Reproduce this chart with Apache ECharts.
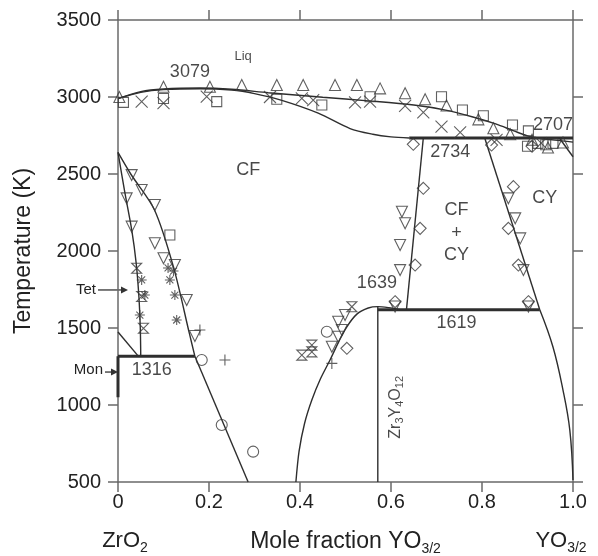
<!DOCTYPE html>
<html>
<head>
<meta charset="utf-8">
<script src="https://cdn.jsdelivr.net/npm/echarts@6/dist/echarts.min.js"></script>
<style>html,body{margin:0;padding:0;background:#fff}#c{width:598px;height:556px}</style>
</head>
<body>
<div id="c"></div>
<script>
// ---- axes ----
var xTicks = [0, 0.2, 0.4, 0.6, 0.8, 1.0];
var yTicks = [500, 1000, 1500, 2000, 2500, 3000, 3500];

// ---- phase boundaries (x = mole fraction YO3/2, T in K) ----
var liquidus = [[0,2990],[0.05,3035],[0.1,3052],[0.18,3058],[0.25,3050],[0.33,3028],[0.45,2998],[0.55,2975],[0.65,2948],[0.72,2915],[0.78,2870],[0.83,2825],[0.87,2780],[0.9,2748],[0.93,2732],[0.96,2720],[1,2707]];
var solidusCF = [[0,2990],[0.05,3030],[0.1,3048],[0.18,3054],[0.25,3045],[0.3,3022],[0.36,2978],[0.44,2895],[0.51,2795],[0.56,2758],[0.6,2741],[0.64,2734]];
var hexLine = [[0.97,2734],[1,2612]];
var tetRightUpper = [[0,2640],[0.028,2500],[0.08,2268],[0.122,1895],[0.157,1463],[0.169,1316]];
var tetRightLower = [[0.169,1316],[0.286,500]];
var tetLeft = [[0,2640],[0.015,2380],[0.03,2140],[0.04,1920],[0.046,1700],[0.049,1500],[0.05,1316]];
var monLine = [[0,1474],[0.045,1316]];
var monPhase = [[0,1316],[0,1050]];
var eutectoid1316 = [[0,1316],[0.169,1316]];
var peritectic2734 = [[0.64,2734],[1,2734]];
var eutectoid1619 = [[0.571,1619],[0.927,1619]];
var twoPhaseLeft = [[0.671,2734],[0.634,1619]];
var twoPhaseRight = [[0.806,2734],[0.927,1619]];
var cyLower = [[0.927,1619],[0.956,1377],[0.978,1097],[0.993,837],[1,513]];
var deltaDome = [[0.391,500],[0.398,700],[0.41,880],[0.426,1032],[0.445,1170],[0.466,1292],[0.485,1410],[0.503,1508],[0.525,1590],[0.55,1630],[0.571,1639],[0.595,1632],[0.62,1619]];
var deltaLine = [[0.571,1639],[0.571,500]];

// ---- experimental points ----
var ptsTriUp = [[0.003,3000],[0.10,3067],[0.202,3067],[0.272,3078],[0.349,3078],[0.407,3078],[0.477,3078],[0.525,3078],[0.576,3056],[0.631,3024],[0.675,2985],[0.722,2945],[0.792,2855],[0.825,2797],[0.862,2758],[0.91,2722],[0.945,2672],[0.978,2705]];
var ptsCross = [[0.052,2970],[0.10,2960],[0.195,3002],[0.334,3000],[0.404,2991],[0.429,2980],[0.521,2965],[0.554,2970],[0.631,2942],[0.671,2900],[0.711,2807],[0.752,2770],[0.832,2721],[0.93,2700]];
var ptsSquare = [[0.012,2965],[0.10,2990],[0.217,2970],[0.349,2985],[0.448,2948],[0.554,3002],[0.711,3002],[0.757,2916],[0.803,2878],[0.867,2818],[0.902,2780],[0.114,2104],[0.90,2680],[0.923,2699],[0.94,2690],[0.956,2699]];
var ptsTriDown = [[0.030,2493],[0.052,2396],[0.019,2342],[0.081,2299],[0.030,2158],[0.081,2050],[0.10,1953],[0.125,1909],[0.151,1682],[0.169,1448],[0.499,1584],[0.484,1541],[0.492,1487],[0.484,1443],[0.47,1378],[0.624,2255],[0.631,2180],[0.62,2039],[0.62,1876],[0.609,1640],[0.858,2342],[0.873,2212],[0.884,2082],[0.891,1876],[0.902,1640]];
var ptsDiamond = [[0.649,2693],[0.821,2688],[0.91,2680],[0.671,2407],[0.664,2147],[0.653,1909],[0.609,1671],[0.869,2418],[0.858,2147],[0.88,1909],[0.902,1671],[0.503,1368]];
var ptsHourglass = [[0.041,1888],[0.052,1705],[0.056,1498],[0.514,1638],[0.426,1389],[0.426,1345],[0.404,1324]];
var ptsAsterisk = [[0.052,1812],[0.114,1812],[0.059,1714],[0.125,1714],[0.048,1584],[0.129,1552],[0.11,1890],[0.122,1870]];
var ptsPlus = [[0.18,1487],[0.235,1292],[0.47,1270]];
var ptsCircle = [[0.184,1292],[0.228,870],[0.297,697],[0.459,1476]];

// ---- annotations ----
var bigLabels = [[0.158,3164,'3079'],[0.286,2526,'CF'],[0.730,2643,'2734'],[0.956,2818,'2707'],[0.938,2342,'CY'],[0.744,2266,'CF'],[0.744,2117,'+'],[0.744,1974,'CY'],[0.569,1792,'1639'],[0.744,1530,'1619'],[0.074,1227,'1316']];
var smallLabels = [[0.275,3262,'Liq']];
var compoundLabel = [[0.609,985,'Zr3Y4O12']];

var FONT = 'Liberation Sans, Arial, Helvetica, sans-serif';
var LINE = '#2e2e2e';
var MK = '#383838';

function curve(data, width, smooth) {
  return { type: 'line', data: data, showSymbol: false, symbol: 'none', smooth: smooth || false,
    lineStyle: { color: LINE, width: width }, silent: true, z: 3 };
}
function points(data, symbol, size) {
  return { type: 'scatter', data: data, symbol: symbol, symbolSize: size, silent: true, z: 4,
    itemStyle: { color: 'rgba(255,255,255,0)', borderColor: MK, borderWidth: 1.1 } };
}
function labels(data, fontSize) {
  return { type: 'scatter', symbolSize: 0, silent: true, z: 6,
    data: data.map(function (d) { return { value: [d[0], d[1]], name: d[2] }; }),
    label: { show: true, position: 'inside', formatter: '{b}', fontFamily: FONT, fontSize: fontSize, color: '#1a1a1a' } };
}

var axisCommon = {
  axisLine: { show: true, onZero: false, lineStyle: { color: '#6a6a6a', width: 1.5 } },
  axisTick: { show: true, inside: false, length: 10, lineStyle: { color: '#6a6a6a', width: 1.5 } },
  splitLine: { show: false }
};

var chart = echarts.init(document.getElementById('c'), null, { renderer: 'canvas' });
var option = {
  animation: false,
  backgroundColor: '#ffffff',
  grid: { left: 118, right: 25, top: 20, bottom: 74, containLabel: false, outerBoundsMode: 'none' },
  xAxis: [
    Object.assign({ type: 'value', position: 'bottom', min: xTicks[0], max: xTicks[xTicks.length - 1], interval: 0.2,
      axisLabel: { margin: 10, fontSize: 20, fontFamily: FONT, color: '#222',
        formatter: function (v) { return v === 0 ? '0' : v.toFixed(1); } },
      name: '{a|Mole fraction YO}{s|3/2}', nameLocation: 'middle', nameGap: 46,
      nameTextStyle: { fontFamily: FONT, color: '#222',
        rich: { a: { fontSize: 23, fontFamily: FONT, color: '#222', lineHeight: 28 },
                s: { fontSize: 14, fontFamily: FONT, color: '#222', lineHeight: 14, padding: [14, 0, 0, 0] } } }
    }, axisCommon),
    Object.assign({ type: 'value', position: 'top', min: xTicks[0], max: xTicks[xTicks.length - 1], interval: 0.2,
      axisLabel: { show: false } }, axisCommon)
  ],
  yAxis: [
    Object.assign({ type: 'value', position: 'left', min: yTicks[0], max: yTicks[yTicks.length - 1], interval: 500,
      axisLabel: { margin: 17, fontSize: 20, fontFamily: FONT, color: '#222',
        formatter: function (v) { return String(v); } },
      name: 'Temperature (K)', nameLocation: 'middle', nameGap: 83, nameRotate: 90,
      nameTextStyle: { fontSize: 23, fontFamily: FONT, color: '#222' } }, axisCommon),
    Object.assign({ type: 'value', position: 'right', min: yTicks[0], max: yTicks[yTicks.length - 1], interval: 500,
      axisLabel: { show: false } }, axisCommon)
  ],
  series: [
    curve(liquidus, 1.4, 0.3),
    curve(solidusCF, 1.4, 0.3),
    curve(hexLine, 1.4),
    curve(tetRightUpper, 1.4, 0.3),
    curve(tetRightLower, 1.4),
    curve(tetLeft, 1.4, 0.3),
    curve(monLine, 1.4),
    curve(monPhase, 3),
    curve(eutectoid1316, 3),
    curve(peritectic2734, 3),
    curve(eutectoid1619, 3),
    curve(twoPhaseLeft, 1.4),
    curve(twoPhaseRight, 1.4),
    curve(cyLower, 1.4, 0.4),
    curve(deltaDome, 1.4, 0.3),
    curve(deltaLine, 1.4),
    points(ptsTriUp, 'triangle', 11),
    points(ptsCross, 'path://M0,0L10,10M10,0L0,10', 12),
    points(ptsSquare, 'rect', 10),
    points(ptsTriDown, 'path://M0,0L10,0L5,9Z', 11),
    points(ptsDiamond, 'diamond', 12),
    points(ptsHourglass, 'path://M0,0L10,0L0,10L10,10Z', 10),
    points(ptsAsterisk, 'path://M5,0L5,10M0,5L10,5M1.5,1.5L8.5,8.5M8.5,1.5L1.5,8.5', 10),
    points(ptsPlus, 'path://M5,0L5,10M0,5L10,5', 11),
    points(ptsCircle, 'circle', 11),
    labels(bigLabels, 18),
    labels(smallLabels, 13),
    { type: 'scatter', symbolSize: 0, silent: true, z: 6,
      data: compoundLabel.map(function (d) { return { value: [d[0], d[1]], name: d[2] }; }),
      label: { show: true, position: 'inside', rotate: 90, fontFamily: FONT, color: '#1a1a1a',
        formatter: '{a|Zr}{s|3}{a|Y}{s|4}{a|O}{s|12}',
        rich: { a: { fontSize: 16, fontFamily: FONT, color: '#1a1a1a', lineHeight: 19 },
                s: { fontSize: 11, fontFamily: FONT, color: '#1a1a1a', lineHeight: 11, padding: [9, 0, 0, 0] } } } }
  ]
};
chart.setOption(option);

// side annotations, positioned from data coordinates
var pTet = chart.convertToPixel({ gridIndex: 0 }, [0, 1747]);
var pMon = chart.convertToPixel({ gridIndex: 0 }, [0, 1214]);
var pZ = chart.convertToPixel({ gridIndex: 0 }, [0, 500]);
var pY = chart.convertToPixel({ gridIndex: 0 }, [1, 500]);
function arrow(x1, x2, y) {
  return [
    { type: 'line', shape: { x1: x1, y1: y, x2: x2 - 5, y2: y }, style: { stroke: '#333', lineWidth: 1.3 } },
    { type: 'polygon', shape: { points: [[x2, y], [x2 - 7, y - 3.5], [x2 - 7, y + 3.5]] }, style: { fill: '#333' } }
  ];
}
var subRich = { a: { fontSize: 22, fontFamily: FONT, fill: '#222', lineHeight: 28 },
                s: { fontSize: 14, fontFamily: FONT, fill: '#222', lineHeight: 14, padding: [14, 0, 0, 0] } };
chart.setOption({
  graphic: [].concat(
    arrow(pTet[0] - 20, pTet[0] + 10, pTet[1]),
    arrow(pMon[0] - 13, pMon[0], pMon[1]),
    [
      { type: 'text', x: pTet[0] - 22, y: pTet[1], style: { text: 'Tet', font: '15px ' + FONT, fill: '#222', align: 'right', verticalAlign: 'middle' } },
      { type: 'text', x: pMon[0] - 15, y: pMon[1] - 2, style: { text: 'Mon', font: '15px ' + FONT, fill: '#222', align: 'right', verticalAlign: 'middle' } },
      { type: 'text', x: pZ[0] + 7, y: pZ[1] + 59, style: { text: '{a|ZrO}{s|2}', rich: subRich, align: 'center', verticalAlign: 'middle' } },
      { type: 'text', x: pY[0] - 12, y: pY[1] + 59, style: { text: '{a|YO}{s|3/2}', rich: subRich, align: 'center', verticalAlign: 'middle' } }
    ])
});
</script>
</body>
</html>
